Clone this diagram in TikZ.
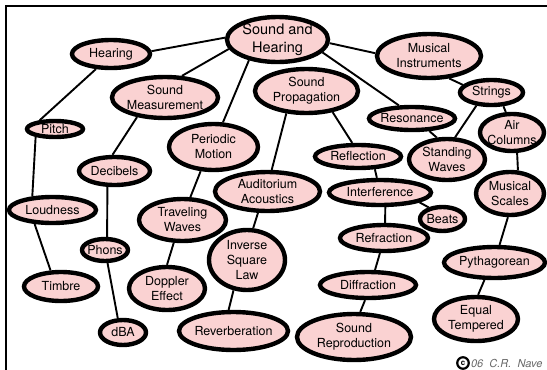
\documentclass[tikz,border=0pt]{standalone}
\usepackage{fontspec}
\setmainfont{TeX Gyre Heros}
\usepackage{tikz}
\usetikzlibrary{positioning,shapes.geometric}
\definecolor{topicpink}{RGB}{250,210,210}
\definecolor{notegray}{RGB}{105,105,105}

\begin{document}
\begin{tikzpicture}[
    x=1pt, y=-1pt,
    topic/.style={ellipse, draw, line width=4.4pt, fill=topicpink, inner sep=-5pt,
      align=center, font=\fontsize{12.5}{15}\selectfont},
    sz/.style 2 args={minimum width=#1pt, minimum height=#2pt},
    link/.style={line width=1.9pt}
  ]
  \useasboundingbox (0,0) rectangle (547,370);

  %% ---- frame (top and left edge) ----
  \draw[line width=2pt] (6,370) -- (6,6) -- (547,6);

  %% ---- root ----
  \node[topic, sz={101}{45}, font=\fontsize{14.5}{17.5}\selectfont] (snh) at (277.5,39.5) {Sound and\\Hearing};

  %% ---- left branch: hearing ----
  \node[topic, sz={78}{28}]  (hearing)  at (111,54)    {Hearing};
  \node[topic, sz={56}{16}]  (pitch)    at (55,129)    {Pitch};
  \node[topic, sz={87}{26}]  (loudness) at (52.5,210)  {Loudness};
  \node[topic, sz={74}{29}]  (timbre)   at (61,286.5)  {Timbre};

  %% ---- measurement ----
  \node[topic, sz={106}{41}] (measure)  at (165,97.5)  {Sound\\Measurement};
  \node[topic, sz={71}{28}]  (decibels) at (114.5,171) {Decibels};
  \node[topic, sz={46}{22}]  (phons)    at (105,250)   {Phons};
  \node[topic, sz={46}{25}]  (dba)      at (123,332.5) {dBA};

  %% ---- periodic motion ----
  \node[topic, sz={89}{46}]  (periodic) at (213.5,147) {Periodic\\Motion};
  \node[topic, sz={87}{42}]  (traveling) at (182.5,220) {Traveling\\Waves};
  \node[topic, sz={76}{43}]  (doppler)  at (167,288.5) {Doppler\\Effect};

  %% ---- propagation ----
  \node[topic, sz={103}{44}] (propagation) at (306.5,91)  {Sound\\Propagation};
  \node[topic, sz={105}{39}] (auditorium)  at (267.5,191.5) {Auditorium\\Acoustics};
  \node[topic, sz={76}{60}]  (inverse)     at (247,260)   {Inverse\\Square\\Law};
  \node[topic, sz={109}{38}] (reverb)      at (233.5,331) {Reverberation};
  \node[topic, sz={86}{23}]  (reflection)  at (358,156.5) {Reflection};
  \node[topic, sz={102}{25}] (interference) at (380,192.5) {Interference};
  \node[topic, sz={45}{24}]  (beats)       at (442.5,219) {Beats};
  \node[topic, sz={88}{26}]  (refraction)  at (384,238)   {Refraction};
  \node[topic, sz={96}{26}]  (diffraction) at (368,285)   {Diffraction};
  \node[topic, sz={114}{46}] (reproduction) at (354,337)  {Sound\\Reproduction};

  %% ---- music ----
  \node[topic, sz={104}{44}] (instruments) at (429,56)    {Musical\\Instruments};
  \node[topic, sz={86}{23}]  (resonance)   at (412,118.5) {Resonance};
  \node[topic, sz={63}{25}]  (strings)     at (491.5,92.5) {Strings};
  \node[topic, sz={64}{37}]  (aircol)      at (512,132.5) {Air\\Columns};
  \node[topic, sz={76}{41}]  (standing)    at (447,159.5) {Standing\\Waves};
  \node[topic, sz={68}{43}]  (scales)      at (510,193.5) {Musical\\Scales};
  \node[topic, sz={101}{31}] (pythagorean) at (494.5,262.5) {Pythagorean};
  \node[topic, sz={84}{44}]  (equal)       at (476,319)   {Equal\\Tempered};

  %% ---- connections (node.angle -- node.angle) ----
  \foreach \a/\p/\b/\q in {
      snh/178/hearing/4, snh/191/measure/52, snh/216/periodic/69,
      snh/356/instruments/177, snh/344/resonance/135,
      hearing/225/pitch/150, pitch/202/loudness/146, loudness/218/timbre/123,
      measure/215/decibels/97, decibels/246/phons/81, phons/281/dba/110,
      periodic/242/traveling/71, traveling/249/doppler/90,
      propagation/228/auditorium/79, propagation/321/reflection/113,
      auditorium/246/inverse/79, inverse/246/reverb/103,
      reflection/323/interference/102, interference/346/beats/140,
      interference/290/refraction/86, refraction/255/diffraction/65,
      diffraction/259/reproduction/76,
      instruments/312/strings/165, strings/221/standing/70,
      strings/311/aircol/107, resonance/324/standing/115,
      aircol/284/scales/71, scales/265/pythagorean/74,
      pythagorean/240/equal/85}{
    \draw[link] (\a.\p) -- (\b.\q);
  }

  %% ---- credit ----
  \node[circle, draw, line width=2.2pt, minimum size=11.5pt, inner sep=0pt,
    font=\fontsize{8}{8}\selectfont\bfseries] (copymark) at (463,363) {c};
  \node[right=1pt of copymark, inner sep=0pt, text=notegray,
    font=\fontsize{11}{13}\selectfont\itshape] (credit) {06\ \ C.R.\ \ Nave};

\end{tikzpicture}
\end{document}
